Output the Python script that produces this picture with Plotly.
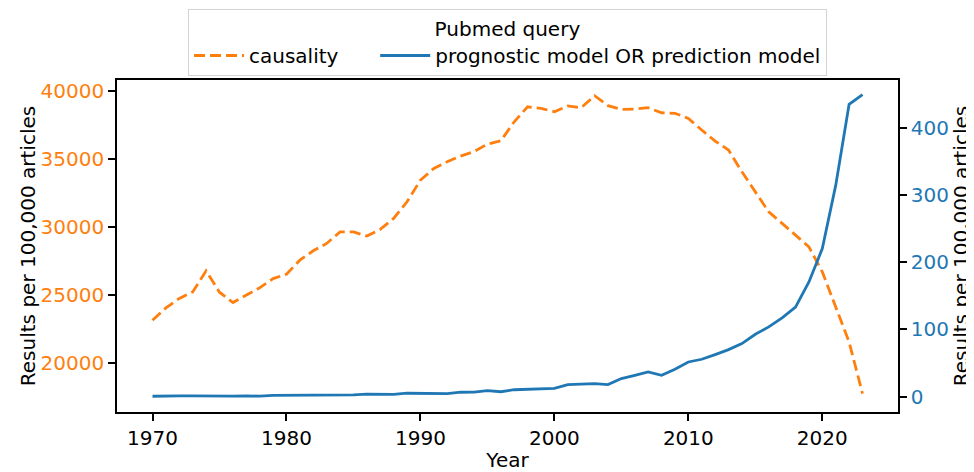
import plotly.graph_objects as go

# 数据：每 10 万篇文章的检索结果数
years = list(range(1970, 2024))

causality = [
    23140, 24040, 24740, 25220, 26770, 25200, 24440, 24980, 25520, 26200,
    26520, 27550, 28240, 28780, 29630, 29630, 29320, 29810, 30620, 31840,
    33430, 34290, 34780, 35200, 35520, 36080, 36320, 37720, 38820, 38700,
    38460, 38880, 38750, 39630, 38900, 38630, 38650, 38750, 38380, 38340,
    37970, 37110, 36300, 35640, 34040, 32570, 31100, 30250, 29390, 28530,
    26690, 24120, 21540, 17750,
]

prognostic = [
    0.5, 1.2, 1.0, 1.0, 0.6, 1.0, 0.6, 1.2, 0.6, 1.8,
    1.8, 2.0, 2.3, 2.8, 2.2, 2.5, 3.8, 4.0, 3.2, 5.0,
    5.0, 5.3, 4.5, 6.5, 6.6, 8.8, 7.2, 10.2, 10.8, 12.0,
    12.2, 17.8, 18.3, 19.3, 17.8, 26.8, 31.7, 36.6, 31.7, 40.6,
    51.5, 55.5, 62.5, 69.9, 78.9, 92.7, 103.6, 117.0, 133.0, 170.5,
    220.0, 314.0, 434.5, 449.0,
]

x_ticks = [1970, 1980, 1990, 2000, 2010, 2020]
left_ticks = [20000, 25000, 30000, 35000, 40000]
right_ticks = [0, 100, 200, 300, 400]

ORANGE = '#ff7f0e'
BLUE = '#1f77b4'
FONT = 'DejaVu Sans'
GAP = '\u00a0' * 5  # 图例条目间距

fig = go.Figure()

fig.add_trace(
    go.Scatter(
        x=years,
        y=causality,
        mode='lines',
        name='causality' + GAP,
        line=dict(color=ORANGE, width=2.8, dash='11px,5px'),
        yaxis='y',
    )
)

fig.add_trace(
    go.Scatter(
        x=years,
        y=prognostic,
        mode='lines',
        name='prognostic model OR prediction model',
        line=dict(color=BLUE, width=2.8),
        yaxis='y2',
    )
)

axis_common = dict(
    showline=True,
    linecolor='black',
    linewidth=1.6,
    ticks='outside',
    ticklen=7,
    tickwidth=1.6,
    tickcolor='black',
    showgrid=False,
    zeroline=False,
    automargin=False,
)

# 页面 body 默认有 8px 边距，这里把画布缩小 8px 来抵消
fig.update_layout(
    width=966,
    height=464,
    margin=dict(l=109, r=76, t=72, b=60, autoexpand=False),
    paper_bgcolor='white',
    plot_bgcolor='white',
    font=dict(family=FONT, size=20, color='black'),
    showlegend=True,
    legend=dict(
        orientation='h',
        x=0.5,
        xanchor='center',
        y=1.2139,
        yanchor='top',
        title=dict(text='Pubmed query', side='top center', font=dict(size=20)),
        font=dict(size=20),
        bordercolor='#d4d4d4',
        borderwidth=1,
        bgcolor='white',
        itemwidth=50,
        tracegroupgap=0,
    ),
    xaxis=dict(
        **axis_common,
        mirror=True,
        range=[1967.35, 2025.65],
        tickvals=x_ticks,
        title=dict(text='Year', standoff=5, font=dict(size=20)),
        tickfont=dict(size=20, color='black'),
    ),
    yaxis=dict(
        **axis_common,
        range=[16397, 40787],
        tickvals=left_ticks,
        tickformat='d',
        tickfont=dict(size=20, color=ORANGE),
        title=dict(text='Results per 100,000 articles', standoff=0, font=dict(size=20)),
    ),
    yaxis2=dict(
        **axis_common,
        overlaying='y',
        side='right',
        range=[-22.9, 470.7],
        tickvals=right_ticks,
        tickformat='d',
        tickfont=dict(size=20, color=BLUE),
        title=dict(text='Results per 100,000 articles', standoff=2, font=dict(size=20)),
    ),
)

fig.write_html("out.html")
